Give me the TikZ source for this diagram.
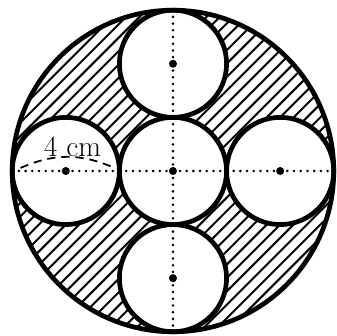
\documentclass[tikz,border=0pt]{standalone}
\usepackage{tikz}

\tikzset{
  rim/.style={line width=4pt},
  hatch/.style={line width=1.7pt},
  axisdots/.style={line width=2.4pt,line cap=round,dash pattern=on 0pt off 5.7pt},
}

\begin{document}
\begin{tikzpicture}
  \useasboundingbox (-5.164,-4.925) rectangle (4.896,5.104);
  \coordinate (O) at (0,0);
  \coordinate (N) at (0,3.2);
  \coordinate (S) at (0,-3.2);
  \coordinate (W) at (-3.2,0);
  \coordinate (E) at (3.2,0);
  % hatched ring
  \begin{scope}
    \clip (O) circle (4.8);
    \foreach \k in {-18,...,18}
      \draw[hatch] (\k*0.4-6,-6)--(\k*0.4+6,6);
  \end{scope}
  \foreach \c in {O,N,S,W,E}
    \fill[white] (\c) circle (1.6);
  % axes
  \draw[axisdots] (-4.8,0)--(4.8,0);
  \draw[axisdots] (0,4.8)--(0,-4.8);
  \draw[rim] (O) circle (4.8);
  \foreach \c in {O,N,S,W,E}{
    \draw[rim] (\c) circle (1.6);
    \fill (\c) circle (0.12);
  }
  % dimension
  \draw[line width=1.5pt,dash pattern=on 7pt off 5pt] (-4.55,0.09) to[bend left=24] (-1.75,0.09);
  \node[anchor=base,font=\fontsize{25}{28}\selectfont,inner sep=0pt] at (-3.0,0.42) {4 cm};
\end{tikzpicture}
\end{document}
